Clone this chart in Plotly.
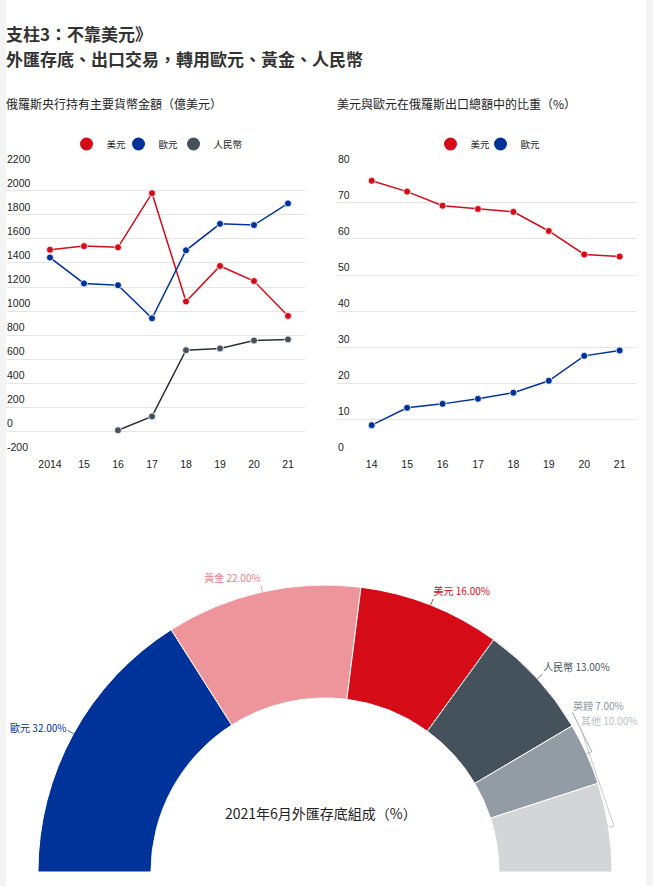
import plotly.graph_objects as go

W, H = 653, 886

# ---------------- data ----------------
years_left = ["2014", "15", "16", "17", "18", "19", "20", "21"]
usd_reserve = [1510, 1540, 1530, 1980, 1080, 1375, 1250, 960]
eur_reserve = [1445, 1230, 1215, 940, 1505, 1725, 1715, 1895]
cny_reserve = [None, None, 10, 125, 675, 690, 755, 765]
left_ticks = [-200, 0, 200, 400, 600, 800, 1000, 1200, 1400, 1600, 1800, 2000, 2200]

years_right = ["14", "15", "16", "17", "18", "19", "20", "21"]
usd_export = [76.1, 73.1, 69.2, 68.3, 67.5, 62.2, 55.7, 55.1]
eur_export = [8.4, 13.2, 14.3, 15.7, 17.4, 20.7, 27.6, 29.1]
right_ticks = [0, 10, 20, 30, 40, 50, 60, 70, 80]

share_labels = ["歐元", "黃金", "美元", "人民幣", "英鎊", "其他"]
share_values = [32, 22, 16, 13, 7, 10]

# ---------------- style ----------------
RED = "#d50b17"
BLUE = "#003399"
SLATE = "#46525b"
slice_colors = [BLUE, "#ed959a", RED, SLATE, "#939ca4", "#d3d5d7"]
label_colors = [BLUE, "#e8818a", RED, SLATE, "#8a949c", "#b9bdc1"]
label_theta_shift = [0, 0, 0, 0, -8.5, -20.4]
label_r = [1.07, 1.07, 1.07, 1.07, 1.07, 1.06]
label_pos = ["middle left", "top left", "top right", "top right", "top right", "top right"]
FONT = "Arial, 'Liberation Sans', 'Noto Sans CJK TC', sans-serif"
CJK = "'Noto Sans CJK TC', sans-serif"
GRID = "#e4e4e4"
R_MAX = 1.15

fig = go.Figure()

# ---------------- left line chart ----------------
left_series = [("美元", usd_reserve, RED, RED, 7),
               ("歐元", eur_reserve, BLUE, BLUE, 10),
               ("人民幣", cny_reserve, "#2b3036", SLATE, 0)]
for name, vals, lc, mc, lw in left_series:
    fig.add_trace(go.Scatter(
        x=years_left, y=vals, mode="lines+markers",
        line=dict(color=lc, width=1.5),
        marker=dict(color=mc, size=7, line=dict(color="white", width=0.8)),
        showlegend=False, xaxis="x", yaxis="y", cliponaxis=False, hoverinfo="x+y"))
for name, vals, lc, mc, lw in left_series:
    fig.add_trace(go.Scatter(
        x=[None], y=[None], mode="markers", name=name,
        marker=dict(color=mc, size=13), legend="legend",
        legendwidth=lw if lw else None, xaxis="x", yaxis="y"))

# ---------------- right line chart ----------------
right_series = [("美元", usd_export, RED, 5), ("歐元", eur_export, BLUE, 0)]
for name, vals, c, lw in right_series:
    fig.add_trace(go.Scatter(
        x=years_right, y=vals, mode="lines+markers",
        line=dict(color=c, width=1.5),
        marker=dict(color=c, size=7, line=dict(color="white", width=0.8)),
        showlegend=False, xaxis="x2", yaxis="y2", cliponaxis=False, hoverinfo="x+y"))
for name, vals, c, lw in right_series:
    fig.add_trace(go.Scatter(
        x=[None], y=[None], mode="markers", name=name,
        marker=dict(color=c, size=13), legend="legend2",
        legendwidth=lw if lw else None, xaxis="x2", yaxis="y2"))

# ---------------- half donut ----------------
mids = []
cum = 0
for v in share_values:
    mids.append((cum + v / 2) * 1.8)
    cum += v
fig.add_trace(go.Barpolar(
    r=[1] * len(share_values), theta=mids, width=[v * 1.8 for v in share_values],
    marker=dict(color=slice_colors, line=dict(color="white", width=1)),
    text=share_labels, hoverinfo="text", showlegend=False, subplot="polar"))

label_thetas = [m + s for m, s in zip(mids, label_theta_shift)]
for i, (m, lt) in enumerate(zip(mids, label_thetas)):
    if label_theta_shift[i] == 0:
        rr, tt = [1.0, 1.06], [m, m]
    else:
        rr, tt = [1.0, 1.05, label_r[i] - 0.005], [m, m, lt]
    fig.add_trace(go.Scatterpolar(
        r=rr, theta=tt, mode="lines", line=dict(color=label_colors[i], width=0.8),
        showlegend=False, hoverinfo="skip", cliponaxis=False, subplot="polar"))
fig.add_trace(go.Scatterpolar(
    r=label_r, theta=label_thetas, mode="text",
    text=[f"{n} {v:.2f}%" for n, v in zip(share_labels, share_values)],
    textposition=label_pos,
    textfont=dict(family=CJK, size=10, color=label_colors),
    showlegend=False, hoverinfo="skip", cliponaxis=False, subplot="polar"))

# ---------------- layout ----------------
axis_font = dict(family=FONT, size=10.5, color="#222")
yd = [1 - 456.1 / H, 1 - 166.1 / H]

annotations = [
    dict(text="<b>支柱3：不靠美元》</b>", x=4 / W, y=1 - 33 / H, xref="paper", yref="paper",
         xanchor="left", yanchor="middle", showarrow=False,
         font=dict(family=CJK, size=17, color="#333")),
    dict(text="<b>外匯存底、出口交易，轉用歐元、黃金、人民幣</b>", x=4 / W, y=1 - 58 / H,
         xref="paper", yref="paper", xanchor="left", yanchor="middle", showarrow=False,
         font=dict(family=CJK, size=17, color="#333")),
    dict(text="俄羅斯央行持有主要貨幣金額（億美元）", x=4 / W, y=1 - 103 / H,
         xref="paper", yref="paper", xanchor="left", yanchor="middle", showarrow=False,
         font=dict(family=CJK, size=12, color="#222")),
    dict(text="美元與歐元在俄羅斯出口總額中的比重（%）", x=335 / W, y=1 - 103 / H,
         xref="paper", yref="paper", xanchor="left", yanchor="middle", showarrow=False,
         font=dict(family=CJK, size=12, color="#222")),
    dict(text="2021年6月外匯存底組成（%）", x=321 / W, y=1 - 813 / H,
         xref="paper", yref="paper", xanchor="center", yanchor="middle", showarrow=False,
         font=dict(family=CJK, size=14, color="#222")),
]
# y tick labels sitting above their gridlines, left aligned
for t in left_ticks:
    annotations.append(dict(text=str(t), x=0, xref="x domain", y=t, yref="y",
                            xanchor="left", yanchor="middle", yshift=8, xshift=-2,
                            showarrow=False, font=axis_font))
for t in right_ticks:
    annotations.append(dict(text=str(t), x=0, xref="x2 domain", y=t, yref="y2",
                            xanchor="left", yanchor="middle", yshift=8, xshift=-1,
                            showarrow=False, font=axis_font))

fig.update_layout(
    width=W, height=H, autosize=False,
    margin=dict(l=0, r=0, t=0, b=0),
    template="none",
    paper_bgcolor="#f4f4f4", plot_bgcolor="rgba(0,0,0,0)",
    font=dict(family=FONT, color="#222"),
    xaxis=dict(domain=[7 / W, 305 / W], anchor="y", type="category",
               range=[-1.265, 7.5], showgrid=False, zeroline=False, showline=False,
               ticks="", tickfont=axis_font, fixedrange=True),
    yaxis=dict(domain=yd, anchor="x", range=[-205, 2205], tickvals=left_ticks,
               showgrid=True, gridcolor=GRID, gridwidth=1.2, zeroline=False,
               showline=False, ticks="", showticklabels=False),
    xaxis2=dict(domain=[337 / W, 637 / W], anchor="y2", type="category",
                range=[-0.98, 7.49], showgrid=False, zeroline=False, showline=False,
                ticks="", tickfont=axis_font),
    yaxis2=dict(domain=yd, anchor="x2", range=[-0.17, 80.17], tickvals=right_ticks,
                showgrid=True, gridcolor=GRID, gridwidth=1.2, zeroline=False,
                showline=False, ticks="", showticklabels=False),
    legend=dict(orientation="h", x=157 / W, xanchor="center", y=1 - 144 / H,
                yanchor="middle", font=dict(family=CJK, size=9.5, color="#222"),
                bgcolor="rgba(0,0,0,0)", itemwidth=30),
    legend2=dict(orientation="h", x=488 / W, xanchor="center", y=1 - 144 / H,
                 yanchor="middle", font=dict(family=CJK, size=9.5, color="#222"),
                 bgcolor="rgba(0,0,0,0)", itemwidth=30),
    polar=dict(domain=dict(x=[21 / W, 629 / W], y=[1 - 872 / H, 1 - 568 / H]),
               sector=[0, 180], hole=0.5725, bgcolor="rgba(0,0,0,0)",
               radialaxis=dict(range=[0, R_MAX], visible=False),
               angularaxis=dict(visible=False, rotation=180, direction="clockwise")),
    shapes=[dict(type="rect", xref="paper", yref="paper", x0=6 / W, x1=646 / W,
                 y0=0, y1=1, fillcolor="white", line=dict(width=0), layer="below")],
    annotations=annotations,
)

fig.write_html("out.html", config={"displayModeBar": False},
               post_script="document.body.style.margin='0';")
